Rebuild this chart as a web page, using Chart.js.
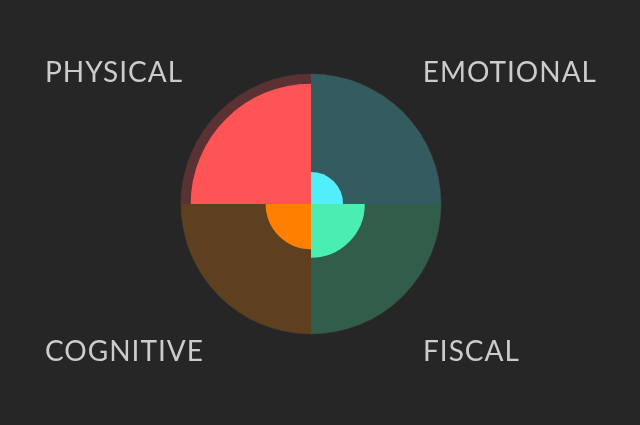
<!DOCTYPE html>
<html>
<head>
<meta charset="utf-8">
<script src="https://cdn.jsdelivr.net/npm/chart.js@4/dist/chart.umd.min.js"></script>
<style>
  html, body { margin: 0; padding: 0; background: #262626; }
  #wrap { position: relative; width: 640px; height: 425px; }
</style>
</head>
<body>
<div id="wrap"><canvas id="c" width="640" height="425"></canvas></div>
<script>
// Categories in drawing order (clockwise from top)
const categories = ["EMOTIONAL", "FISCAL", "COGNITIVE", "PHYSICAL"];
// Foreground values (0-100 scale)
const scores = [19, 37, 30, 92];
// Background full segments
const maxValues = [100, 100, 100, 100];
// Grid ring values
const ringTicks = [25, 50, 75, 100];

const fgColors = ["#52eefc", "#4aeeb0", "#ff8000", "#ff5456"];
const bgColors = ["#335b60", "#335d4b", "#5e3f1f", "#5c3133"];

const cornerLabels = {
  id: "cornerLabels",
  afterDraw(chart) {
    const ctx = chart.ctx;
    ctx.save();
    ctx.font = "28px Lato";
    ctx.fillStyle = "#cccccc";
    ctx.textBaseline = "alphabetic";
    ctx.textAlign = "left";
    if ("letterSpacing" in ctx) ctx.letterSpacing = "1px";
    const w = (t) => ctx.measureText(t).width - 1;
    // PHYSICAL top-left, EMOTIONAL top-right, COGNITIVE bottom-left, FISCAL bottom-right
    ctx.fillText(categories[3], 45, 82);
    ctx.fillText(categories[2], 45, 361);
    ctx.fillText(categories[1], 423, 361);
    ctx.fillText(categories[0], 596 - w(categories[0]), 82);
    ctx.restore();
  }
};

new Chart(document.getElementById("c"), {
  type: "polarArea",
  data: {
    labels: categories,
    datasets: [
      { data: scores, backgroundColor: fgColors, borderWidth: 0 },
      { data: maxValues, backgroundColor: bgColors, borderWidth: 0 }
    ]
  },
  options: {
    responsive: false,
    animation: false,
    layout: { padding: { top: 74, bottom: 91, left: 181, right: 199 } },
    plugins: { legend: { display: false }, tooltip: { enabled: false } },
    scales: {
      r: {
        min: -7.5,
        max: 100,
        z: 1,
        afterBuildTicks: (s) => { s.ticks = ringTicks.map(v => ({ value: v })); },
        ticks: { display: false },
        grid: { color: "rgba(255,255,255,0.08)", lineWidth: 1 },
        angleLines: { display: false },
        pointLabels: { display: false }
      }
    }
  },
  plugins: [cornerLabels]
});
</script>
</body>
</html>
